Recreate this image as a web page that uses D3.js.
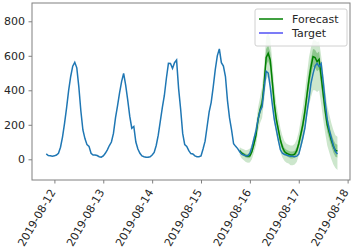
<!DOCTYPE html>
<html lang="en">
<head>
    <meta charset="UTF-8">
    <title>Forecast vs Target</title>
    <style>
        body {
            margin: 0;
            font-family: "DejaVu Sans", sans-serif;
            background: white;
        }
    </style>
    <script src="https://d3js.org/d3.v7.min.js"></script>
</head>
<body>
    <div id="plot"></div>

    <script>
        // hourly target values, starting 2019-08-11 20:00
        const targetStart = "2019-08-11T20:00:00Z";
        const target = [
            31, 22, 20, 18, 20, 25, 35, 70, 130, 210, 300, 400, 480, 540, 562, 530, 420, 280, 170, 120, 85, 75, 35, 25,
            25, 22, 15, 12, 20, 35, 55, 80, 100, 150, 240, 310, 385, 450, 498, 430, 344, 250, 180, 190, 100, 60, 35, 20,
            15, 12, 12, 15, 25, 40, 80, 140, 220, 300, 370, 470, 556, 555, 527, 560, 575, 410, 290, 150, 85, 75, 50, 33,
            31, 20, 15, 15, 20, 60, 105, 190, 275, 330, 420, 520, 600, 640, 560, 540, 480, 340, 240, 170, 90, 75, 62, 44,
            30, 25, 20, 20, 35, 70, 120, 165, 230, 280, 305, 410, 510, 500, 420, 320, 230, 170, 110, 55, 35, 28, 25, 20,
            18, 17, 15, 18, 30, 75, 125, 180, 270, 350, 440, 495, 540, 556, 537, 555, 450, 330, 230, 170, 125, 80, 45, 30
        ];

        // hourly forecast, starting 2019-08-15 19:00
        const forecastStart = "2019-08-15T19:00:00Z";
        const median = [
            50, 35, 28, 20, 18, 20, 45, 90, 140, 230, 286, 325, 440, 590, 614, 576, 450, 320, 230, 170, 110, 70, 45, 35, 30,
            25, 25, 30, 50, 90, 145, 200, 275, 370, 460, 535, 595, 590, 566, 580, 480, 380, 280, 200, 155, 110, 75, 50, 50
        ];
        const lower50 = [
            40, 25, 18, 10, 6, 8, 30, 72, 118, 205, 262, 295, 405, 545, 570, 530, 405, 285, 200, 145, 88, 50, 28, 18, 12,
            5, 5, 10, 28, 65, 115, 165, 235, 325, 410, 480, 535, 530, 510, 520, 425, 330, 235, 160, 115, 75, 40, 15, 10
        ];
        const upper50 = [
            58, 45, 38, 32, 30, 35, 60, 108, 160, 255, 312, 360, 480, 640, 660, 620, 495, 355, 260, 195, 132, 90, 65, 55, 50,
            45, 45, 50, 72, 115, 175, 235, 315, 415, 510, 580, 640, 635, 615, 625, 530, 430, 325, 245, 195, 150, 115, 90, 85
        ];
        const lower90 = [
            25, 5, -5, -15, -20, -18, 0, 40, 80, 160, 210, 240, 340, 460, 480, 440, 320, 210, 140, 90, 40, 10, -10, -20, -25,
            -35, -35, -30, -15, 20, 60, 100, 160, 240, 310, 360, 400, 400, 390, 400, 320, 230, 150, 80, 40, 0, -30, -50, -62
        ];
        const upper90 = [
            70, 62, 58, 52, 55, 62, 90, 140, 200, 300, 360, 420, 540, 710, 735, 700, 570, 420, 320, 250, 180, 135, 105, 90, 85,
            80, 80, 90, 115, 160, 230, 300, 390, 490, 590, 650, 690, 690, 680, 685, 600, 500, 400, 310, 260, 210, 170, 140, 131
        ];

        const yTicks = [0, 200, 400, 600, 800];
        const xTickLabels = ["2019-08-12", "2019-08-13", "2019-08-14", "2019-08-15", "2019-08-16", "2019-08-17", "2019-08-18"];

        const width = 359;
        const height = 252;
        const margin = { top: 3, right: 9, bottom: 72, left: 32 };

        const t0 = new Date(targetStart);
        const f0 = new Date(forecastStart);
        const targetData = target.map((v, i) => ({ t: d3.utcHour.offset(t0, i), v: v }));
        const forecastData = median.map((v, i) => ({
            t: d3.utcHour.offset(f0, i), m: v,
            lo50: lower50[i], hi50: upper50[i], lo90: lower90[i], hi90: upper90[i]
        }));

        const x = d3.scaleUtc()
            .domain([new Date("2019-08-11T13:00:00Z"), new Date("2019-08-18T01:10:00Z")])
            .range([margin.left, width - margin.right]);

        const y = d3.scaleLinear()
            .domain([-120, 906])
            .range([height - margin.bottom, margin.top]);

        const svg = d3.select("#plot")
            .append("svg")
            .attr("width", width)
            .attr("height", height);

        // bands
        svg.append("path")
            .datum(forecastData)
            .attr("fill", "green")
            .attr("fill-opacity", 0.2)
            .attr("d", d3.area().x(d => x(d.t)).y0(d => y(d.lo90)).y1(d => y(d.hi90)));

        svg.append("path")
            .datum(forecastData)
            .attr("fill", "green")
            .attr("fill-opacity", 0.3)
            .attr("d", d3.area().x(d => x(d.t)).y0(d => y(d.lo50)).y1(d => y(d.hi50)));

        svg.append("path")
            .datum(forecastData)
            .attr("fill", "none")
            .attr("stroke", "green")
            .attr("stroke-width", 1.5)
            .attr("d", d3.line().x(d => x(d.t)).y(d => y(d.m)));

        svg.append("path")
            .datum(targetData)
            .attr("fill", "none")
            .attr("stroke", "#1f77b4")
            .attr("stroke-width", 1.5)
            .attr("d", d3.line().x(d => x(d.t)).y(d => y(d.v)));

        // axes
        const yAxis = svg.append("g")
            .attr("transform", `translate(${margin.left},0)`)
            .call(d3.axisLeft(y).tickValues(yTicks).tickSize(3.5).tickPadding(3.5));

        const xAxis = svg.append("g")
            .attr("transform", `translate(0,${height - margin.bottom})`)
            .call(d3.axisBottom(x)
                .tickValues(xTickLabels.map(s => new Date(s + "T00:00:00Z")))
                .tickFormat((d, i) => xTickLabels[i])
                .tickSize(3.5));

        xAxis.selectAll("text")
            .attr("text-anchor", "end")
            .attr("x", 0)
            .attr("y", 0)
            .attr("dy", 0)
            .attr("transform", "translate(1,12) rotate(-60)");

        [yAxis, xAxis].forEach(ax => {
            ax.select(".domain").remove();
            ax.selectAll("line").attr("stroke", "#808080");
            ax.selectAll("text")
                .attr("fill", "#262626")
                .style("font-size", "11px")
                .style("font-family", "DejaVu Sans");
        });

        // frame
        svg.append("rect")
            .attr("x", margin.left)
            .attr("y", margin.top)
            .attr("width", width - margin.left - margin.right)
            .attr("height", height - margin.top - margin.bottom)
            .attr("fill", "none")
            .attr("stroke", "#808080")
            .attr("stroke-width", 1);

        // legend
        const legendItems = [
            { label: "Forecast", color: "green" },
            { label: "Target", color: "#5050f5" }
        ];
        const legend = svg.append("g").attr("transform", "translate(255,9)");
        legend.append("rect")
            .attr("width", 92)
            .attr("height", 37)
            .attr("rx", 2)
            .attr("fill", "white")
            .attr("fill-opacity", 0.8)
            .attr("stroke", "#d0d0d0");
        legendItems.forEach((item, i) => {
            const g = legend.append("g").attr("transform", `translate(0,${10 + i * 14})`);
            g.append("line")
                .attr("x1", 4).attr("x2", 28)
                .attr("stroke", item.color)
                .attr("stroke-width", 1.5);
            g.append("text")
                .attr("x", 37)
                .attr("y", 4)
                .attr("fill", "#262626")
                .style("font-size", "11px")
                .text(item.label);
        });
    </script>
</body>
</html>
